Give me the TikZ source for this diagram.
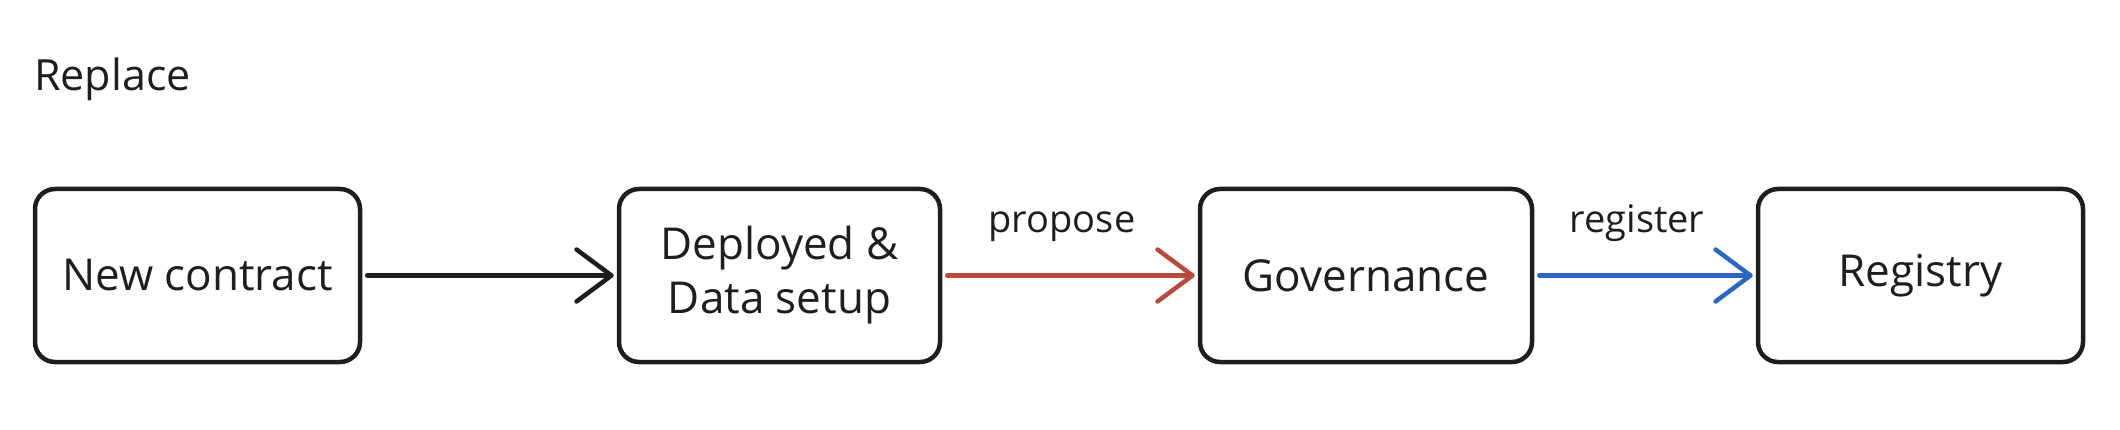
\documentclass[tikz,border=0pt]{standalone}
\usepackage{fontspec}
\setmainfont{Open Sans}
\usetikzlibrary{arrows.meta, positioning}

\definecolor{inkblack}{RGB}{30,30,30}
\definecolor{proposered}{RGB}{184,74,62}
\definecolor{registerblue}{RGB}{43,104,197}

\tikzset{
  stepbox/.style={draw=inkblack, line width=4.5pt, rounded corners=20pt,
    minimum width=325pt, minimum height=173pt, align=center,
    text=inkblack, font=\fontsize{44}{54}\selectfont},
  flow/.style={line width=4.5pt, line cap=round,
    -{Straight Barb[length=35pt, width=52pt, line cap=round, line join=round]},
    shorten <=5pt, shorten >=3pt},
  lbl/.style={text=inkblack, font=\fontsize{38}{46}\selectfont}
}

\begin{document}
\begin{tikzpicture}[x=1pt, y=-1pt]
\useasboundingbox (0,0) rectangle (2120,430);
\node (title) at (34,91) [anchor=base west, text=inkblack, font=\fontsize{43}{52}\selectfont, inner sep=0pt] {Replace};
\node (newc) at (197.5,275.5) [stepbox] {New contract};
\node (deploy) at (779.5,275.5) [stepbox, minimum width=321pt] {Deployed \&\\Data setup};
\node (gov) at (1366,275.5) [stepbox, minimum width=332pt] {Governance};
\node (reg) at (1920.5,275.5) [stepbox] {Registry};
\draw [flow, draw=inkblack] (newc) -- (deploy);
\draw [flow, draw=proposered] (deploy) -- (gov) node (propose) [lbl, midway, above=28pt, xshift=-8pt] {propose};
\draw [flow, draw=registerblue] (gov) -- (reg) node (register) [lbl, midway, above=28pt, xshift=-8pt] {register};
\end{tikzpicture}
\end{document}
